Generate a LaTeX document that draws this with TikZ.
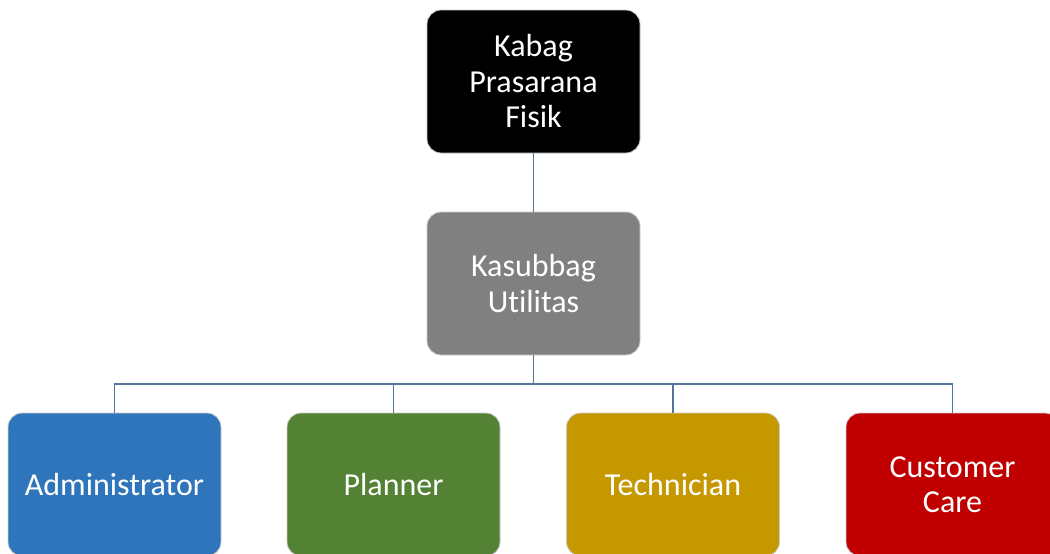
\documentclass[tikz,border=0pt]{standalone}
\usepackage{fontspec}
\setmainfont{Carlito}[Ligatures=NoCommon]
\definecolor{linkblue}{RGB}{84,116,156}
\definecolor{boxedge}{RGB}{205,205,205}
\definecolor{cgray}{RGB}{128,128,128}
\definecolor{cblue}{RGB}{46,117,187}
\definecolor{cgreen}{RGB}{84,130,53}
\definecolor{cgold}{RGB}{197,152,0}
\definecolor{cred}{RGB}{192,0,0}
\begin{document}
\begin{tikzpicture}[x=1pt,y=-1pt,
  unit/.style={draw=boxedge, line width=0.8pt, rounded corners=14pt,
    minimum width=213pt, minimum height=143pt, text=white, align=center,
    font=\fontsize{32}{35.5}\selectfont, inner sep=0pt},
  link/.style={draw=linkblue, line width=1.5pt}]
  \useasboundingbox (0,0) rectangle (1050,554);
  \node[unit, fill=black] (kabag) at (533.5,81.5) {Kabag\\Prasarana\\Fisik};
  \node[unit, fill=cgray] (kasub) at (533.5,283.5) {Kasubbag\\Utilitas};
  \node[unit, fill=cblue] (adm) at (114.5,484.5) {Administrator};
  \node[unit, fill=cgreen] (plan) at (393.5,484.5) {Planner};
  \node[unit, fill=cgold] (tech) at (673,484.5) {Technician};
  \node[unit, fill=cred] (care) at (952.5,484.5) {Customer\\Care};
  \coordinate (bus) at (533.5,384);
  \draw[link] (kabag.south) -- (kasub.north);
  \draw[link] (kasub.south) -- (bus);
  \foreach \n in {adm,plan,tech,care}
    \draw[link] (bus) -| (\n.north);
\end{tikzpicture}
\end{document}
